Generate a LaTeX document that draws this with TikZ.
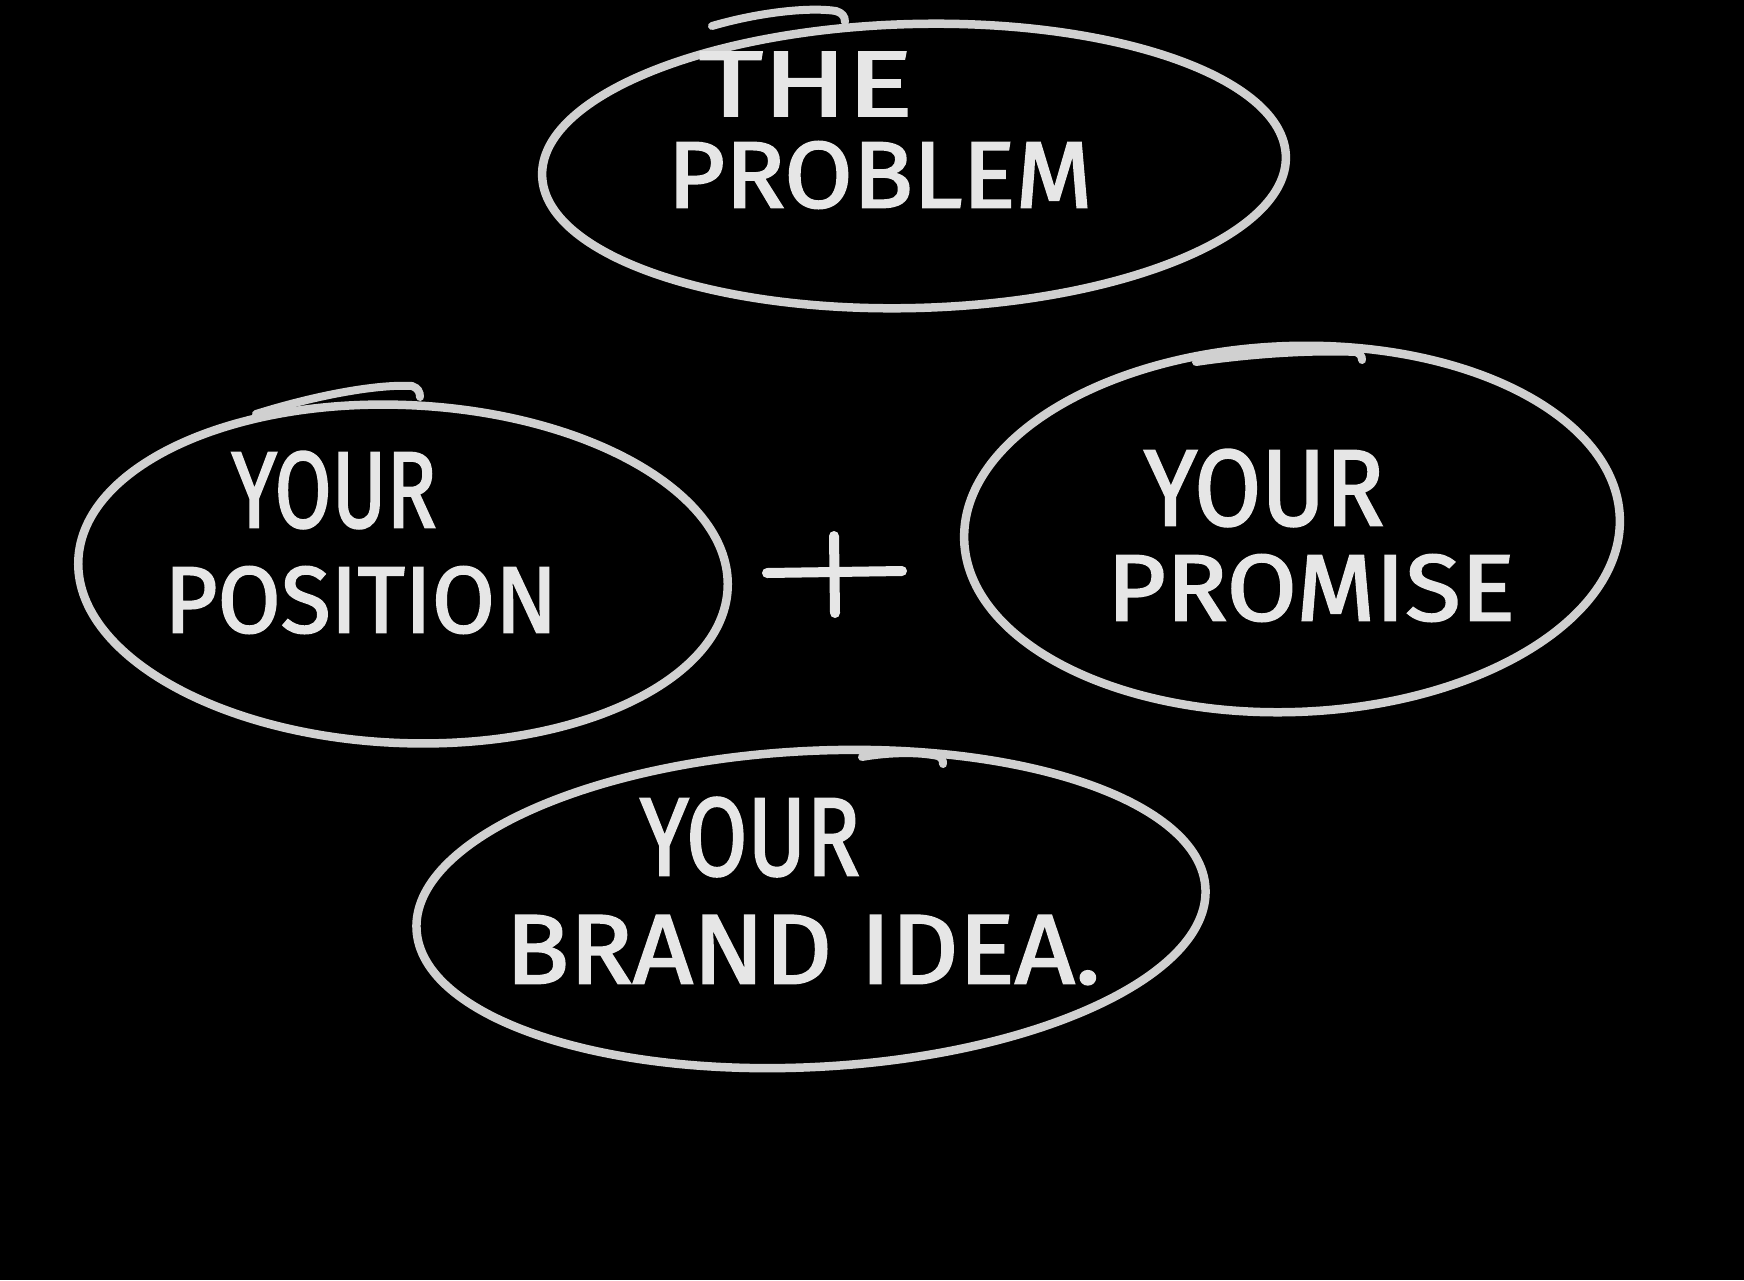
\documentclass[tikz,border=0pt]{standalone}
\usepackage{fontspec}
\usepackage{graphicx}
\setmainfont{Fira Sans}
\newfontfamily\chalkfont{Fira Sans}[FakeBold=2]
\usetikzlibrary{shapes.geometric}
\definecolor{chalk}{HTML}{D0D0D0}
\definecolor{chalktext}{HTML}{E6E6E6}
\tikzset{
  bubble/.style={draw=chalk, line width=8.5pt, ellipse, inner sep=0pt},
  word/.style={text=chalktext, inner sep=0pt, font=\chalkfont},
  flourish/.style={draw=chalk, line width=8pt, line cap=round},
  plusbar/.style={draw=chalktext, line width=10pt, line cap=round},
}
\newcommand{\fitword}[3]{\resizebox{#1pt}{#2pt}{#3}}
\begin{document}
\begin{tikzpicture}[x=1pt,y=-1pt]
\fill[black] (0,0) rectangle (1744,1280);
\useasboundingbox (0,0) rectangle (1744,1280);

% bubbles
\node[bubble, minimum width=744, minimum height=284, rotate=1.5] (problem) at (914,166) {};
\node[bubble, minimum width=650, minimum height=338, rotate=-2.5] (position) at (403,574) {};
\node[bubble, minimum width=656, minimum height=366, rotate=2] (promise) at (1292,529) {};
\node[bubble, minimum width=790, minimum height=316, rotate=3] (brand) at (811,909) {};

% flourishes where the strokes overlap
\draw[flourish] (712,26) .. controls (760,12) and (810,7) .. (836,11) .. controls (842,13) and (845,16) .. (845,22);
\draw[flourish] (256,414) .. controls (320,394) and (380,384) .. (412,386) .. controls (418,388) and (420,392) .. (420,397);
\draw[flourish] (1196,362) .. controls (1250,354) and (1310,350) .. (1356,352) .. controls (1360,354) and (1362,356) .. (1362,360);
\draw[flourish] (862,757) .. controls (890,752) and (920,752) .. (938,756) .. controls (942,758) and (943,760) .. (943,764);

% texts
\node[word] (the) at (806,84) {\fitword{214}{64}{THE}};
\node[word] (problemtxt) at (880,175) {\fitword{425}{66}{PROBLEM}};
\node[word] (your1) at (334,490) {\fitword{205}{76}{YOUR}};
\node[word] (positiontxt) at (361,600) {\fitword{393}{66}{POSITION}};
\node[word] (your2) at (1264,488) {\fitword{240}{76}{YOUR}};
\node[word] (promisetxt) at (1311,588) {\fitword{408}{66}{PROMISE}};
\node[word] (your3) at (750,837) {\fitword{220}{78}{YOUR}};
\node[word] (brandtxt) at (803,950) {\fitword{595}{68}{BRAND IDEA.}};

% plus sign
\coordinate (plusW) at (767,573);
\coordinate (plusE) at (902,571);
\coordinate (plusN) at (834,536);
\coordinate (plusS) at (835,613);
\draw[plusbar] (plusW) -- (plusE);
\draw[plusbar] (plusN) -- (plusS);
\end{tikzpicture}
\end{document}
